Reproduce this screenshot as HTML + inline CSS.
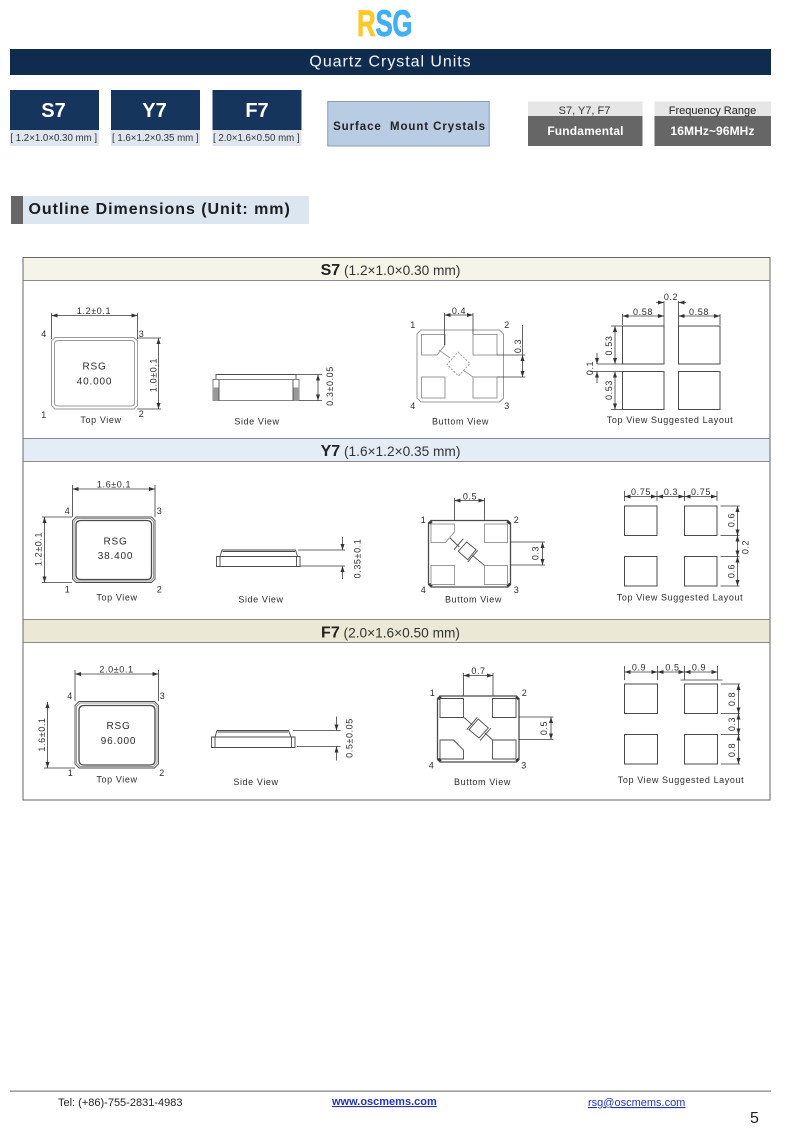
<!DOCTYPE html>
<html lang="en"><head><meta charset="utf-8"><title>Quartz Crystal Units</title>
<style>
html,body{margin:0;padding:0;background:#fff;width:790px;height:1131px;overflow:hidden}
svg{display:block}
text{font-family:"Liberation Sans",Arial,sans-serif;fill:#2c2c2c}
.l{font-size:9px;letter-spacing:.6px;text-anchor:middle}
.m{font-size:10px;letter-spacing:.8px;text-anchor:middle}
.d{fill:none;stroke:#3a3a3a;stroke-width:.8}
.a{fill:none;stroke:#3a3a3a;stroke-width:.8;marker-start:url(#ar);marker-end:url(#ar)}
.a1{fill:none;stroke:#3a3a3a;stroke-width:.8;marker-end:url(#ar)}
.g{fill:none;stroke:#999;stroke-width:1}
.p{fill:none;stroke:#4a4a4a;stroke-width:.9}
.pd{fill:#fff;stroke:#4a4a4a;stroke-width:1}
.h{font-size:13.700px;fill:#333;text-anchor:middle}
</style></head><body>
<svg xmlns="http://www.w3.org/2000/svg" width="790" height="1131" viewBox="0 0 790 1131">
<defs><marker id="ar" viewBox="0 0 6 4" refX="6" refY="2" markerWidth="6" markerHeight="4" markerUnits="userSpaceOnUse" orient="auto-start-reverse"><path d="M0 0L6 2L0 4Z" fill="#333"/></marker></defs>
<rect width="790" height="1131" fill="#fff"/>

<!-- Logo -->
<g transform="translate(357,36) scale(.7,1)" font-weight="700" style="font-size:37px">
<text x="0" y="0" style="fill:#fdc92b;stroke:#fdc92b;stroke-width:.8">R</text><text x="26.500" y="0" style="fill:#3fb0f5;stroke:#3fb0f5;stroke-width:.8">S</text><text x="50.500" y="0" style="fill:#3fb0f5;stroke:#3fb0f5;stroke-width:.8">G</text></g>

<!-- Banner -->
<rect x="10" y="49" width="761" height="26" fill="#0f2c4e"/>
<text x="390.500" y="66.500" text-anchor="middle" style="font-size:16px;letter-spacing:.95px;fill:#f2f5f8">Quartz Crystal Units</text>

<!-- Model tabs -->
<rect x="10" y="90" width="89" height="56" fill="#dfe6ef"/><rect x="10" y="90" width="89" height="40" fill="#15355c"/>
<rect x="111" y="90" width="89" height="56" fill="#dfe6ef"/><rect x="111" y="90" width="89" height="40" fill="#15355c"/>
<rect x="212.500" y="90" width="89" height="56" fill="#dfe6ef"/><rect x="212.500" y="90" width="89" height="40" fill="#15355c"/>
<text x="53.500" y="117" text-anchor="middle" font-weight="700" style="font-size:20px;fill:#fff">S7</text>
<text x="154.500" y="117" text-anchor="middle" font-weight="700" style="font-size:20px;fill:#fff">Y7</text>
<text x="257" y="117" text-anchor="middle" font-weight="700" style="font-size:20px;fill:#fff">F7</text>
<text x="53.700" y="141" text-anchor="middle" style="font-size:9.700px;fill:#333">[ 1.2×1.0×0.30 mm ]</text>
<text x="155.300" y="141" text-anchor="middle" style="font-size:9.700px;fill:#333">[ 1.6×1.2×0.35 mm ]</text>
<text x="256.300" y="141" text-anchor="middle" style="font-size:9.700px;fill:#333">[ 2.0×1.6×0.50 mm ]</text>

<!-- Surface -->
<rect x="327.750" y="101.500" width="161.500" height="44.500" fill="#b8cce4" stroke="#8c9cb0" stroke-width="1"/>
<text x="409.500" y="130" text-anchor="middle" font-weight="700" style="font-size:11.500px;letter-spacing:.92px;fill:#222" xml:space="preserve">Surface  Mount Crystals</text>

<!-- Specs -->
<rect x="528" y="101.500" width="114.500" height="15" fill="#e6e6e6"/><rect x="528" y="116" width="114.500" height="30" fill="#666"/>
<rect x="654.500" y="101.500" width="116.500" height="15" fill="#e6e6e6"/><rect x="654.500" y="116" width="116.500" height="30" fill="#666"/>
<text x="584.500" y="114" text-anchor="middle" style="font-size:11px;fill:#333">S7, Y7, F7</text>
<text x="712.500" y="114" text-anchor="middle" style="font-size:11px;fill:#222">Frequency Range</text>
<text x="585.500" y="135" text-anchor="middle" font-weight="700" style="font-size:12px;letter-spacing:.15px;fill:#fff">Fundamental</text>
<text x="712.500" y="135" text-anchor="middle" font-weight="700" style="font-size:12px;letter-spacing:.1px;fill:#fff">16MHz~96MHz</text>

<!-- Section title -->
<rect x="11" y="196" width="12" height="28" fill="#666"/><rect x="23" y="196" width="286" height="28" fill="#dce6f1"/>
<text x="28.500" y="214" font-weight="700" style="font-size:16px;letter-spacing:.95px;fill:#1c1c1c">Outline Dimensions (Unit: mm)</text>

<!-- Table -->
<rect x="23" y="257.500" width="747" height="23" fill="#f4f5e8"/>
<rect x="23" y="438.500" width="747" height="23" fill="#e4edf5"/>
<rect x="23" y="619.500" width="747" height="23" fill="#ece8d6"/>
<rect x="23" y="257.500" width="747" height="542.500" fill="none" stroke="#666" stroke-width="1"/>
<path d="M23 280.500H770M23 438.500H770M23 461.500H770M23 619.500H770M23 642.500H770" stroke="#8a8a8a" stroke-width="1" fill="none"/>
<text x="390.500" y="275" class="h"><tspan font-weight="700" style="font-size:16px;fill:#222">S7</tspan> (1.2×1.0×0.30 mm)</text>
<text x="390.500" y="456" class="h"><tspan font-weight="700" style="font-size:16px;fill:#222">Y7</tspan> (1.6×1.2×0.35 mm)</text>
<text x="390.500" y="637.500" class="h"><tspan font-weight="700" style="font-size:16px;fill:#222">F7</tspan> (2.0×1.6×0.50 mm)</text>

<!-- S7 top -->
<path class="d" d="M51.500 313V339M137.500 313V339M137 338H161M137 409H161"/>
<path class="a" d="M51.500 315.500H137.500"/><path class="a" d="M158.500 338V409"/>
<path class="g" d="M55 337.500H134L137.500 341V405.500L134 409H55L51.500 405.500V341Z"/>
<path class="g" d="M58 340.500H131Q134.500 340.500 134.500 344V402.500Q134.500 406 131 406H58Q54.500 406 54.500 402.500V344Q54.500 340.500 58 340.500Z"/>
<text class="l" x="94" y="314">1.2±0.1</text>
<text class="l" transform="translate(156.500,375) rotate(-90)">1.0±0.1</text>
<text class="l" x="44" y="337">4</text><text class="l" x="141.500" y="337">3</text><text class="l" x="44" y="418">1</text><text class="l" x="141.500" y="417">2</text>
<text class="l" x="101" y="423">Top View</text>
<text class="m" x="94.500" y="369.500">RSG</text><text class="m" x="94.500" y="384.500">40.000</text>
<!-- S7 side -->
<rect x="213" y="379.500" width="86" height="21" fill="#fff" stroke="#666" stroke-width=".8"/>
<path class="p" d="M216 379V374.500H296V379"/>
<rect x="213" y="387.500" width="6" height="13" fill="#999"/><rect x="293" y="387.500" width="6" height="13" fill="#999"/>
<path class="d" d="M219 379.500V400.500M293 379.500V400.500M296 374.500H322M299 400.500H322"/>
<path class="a" d="M318 374.500V400.500"/>
<text class="l" transform="translate(333,386) rotate(-90)">0.3±0.05</text>
<text class="l" x="257" y="424.500">Side View</text>
<!-- S7 bottom -->
<path class="g" d="M421 330H499.500L503.500 334V398L499.500 402H421L417 398V334Z"/>
<path class="g" d="M421.500 334.500H445V345L437 355H421.500ZM473 334.500H497V355H473ZM421.500 377H445V398H421.500ZM473 377H497V398H473Z"/>
<path class="g" d="M439 350L450 358M463 370L473 377" />
<path d="M458 352L470 363.500L458.500 376L447 364.500Z" fill="none" stroke="#999" stroke-width=".9" stroke-dasharray="2 1.500"/>
<path class="d" d="M444.500 313V345M473 313V334M497 355H525M497 377H525M522.500 325V355"/>
<path class="a" d="M522.500 355V377"/>
<path class="a" d="M444.500 315H473"/>
<text class="l" x="459" y="314">0.4</text>
<text class="l" transform="translate(521,346) rotate(-90)">0.3</text>
<text class="l" x="413" y="328">1</text><text class="l" x="507" y="328">2</text><text class="l" x="413" y="409">4</text><text class="l" x="507" y="409">3</text>
<text class="l" x="460.500" y="424.500">Buttom View</text>
<!-- S7 layout -->
<path class="pd" d="M622.500 326H664V364H622.500ZM678.500 326H720V364H678.500ZM622.500 371.500H664V409.500H622.500ZM678.500 371.500H720V409.500H678.500Z"/>
<path class="d" d="M622.500 314V325M720 314V325M664 301V326M678.500 301V326M611 326H622M611 409.500H622M597 364H622M590 371.500H622"/>
<path class="a" d="M622.500 316H664"/><path class="a" d="M678.500 316H720"/>
<path class="a" d="M615 326V364"/><path class="a" d="M615 371.500V409.500"/>
<path class="a1" d="M656 302.500H664"/><path class="a1" d="M686 302.500H678.500"/>
<path class="a1" d="M597 353V364"/><path class="a1" d="M597 383V371.500"/>
<text class="l" x="643" y="315">0.58</text><text class="l" x="699" y="315">0.58</text><text class="l" x="671" y="300">0.2</text>
<text class="l" transform="translate(612,345.500) rotate(-90)">0.53</text>
<text class="l" transform="translate(612,390) rotate(-90)">0.53</text>
<text class="l" transform="translate(593,368) rotate(-90)">0.1</text>
<text class="l" x="670" y="423">Top View Suggested Layout</text>

<!-- Y7 top -->
<path class="d" d="M72.500 485V517M155 485V517M42 517H72M42 582.500H72"/>
<path class="a" d="M72.500 489H155"/><path class="a" d="M44.500 517V582.500"/>
<path class="p" d="M76 517H151.500L155 520.500V579L151.500 582.500H76L72.500 579V520.500Z"/>
<path class="g" d="M77 518.500H150.500L153.500 521.500V578L150.500 581H77L74 578V521.500Z"/>
<path d="M81 520.500H147Q151.500 520.500 151.500 525V575Q151.500 579.500 147 579.500H81Q76 579.500 76 575V525Q76 520.500 81 520.500Z" fill="none" stroke="#4a4a4a" stroke-width="1.300"/>
<text class="l" x="114" y="487.500">1.6±0.1</text>
<text class="l" transform="translate(41.500,549) rotate(-90)">1.2±0.1</text>
<text class="l" x="67.500" y="514">4</text><text class="l" x="159.500" y="514">3</text><text class="l" x="67.500" y="592.500">1</text><text class="l" x="159.500" y="592.500">2</text>
<text class="l" x="117" y="600.500">Top View</text>
<text class="m" x="115.500" y="544.500">RSG</text><text class="m" x="115.500" y="559">38.400</text>
<!-- Y7 side -->
<path class="p" d="M216.500 556.500H300V566.500H216.500ZM220 556.500V566.500M296.500 556.500V566.500M220 556.500L222 550H295.500L297.500 556.500M222.500 551.500H295"/>
<path class="d" d="M298 550H345M300 566H345"/>
<path class="a1" d="M342.500 537V550"/><path class="a1" d="M342.500 579V566"/>
<text class="l" transform="translate(360.500,558.500) rotate(-90)">0.35±0.1</text>
<text class="l" x="261" y="602.500">Side View</text>
<!-- Y7 bottom -->
<path d="M431 520.500H508L510.500 523V584.500L508 587H431L428.500 584.500V523Z" fill="none" stroke="#4a4a4a" stroke-width="1.300"/>
<path d="M429.500 524L432 521.500M507 521.500L510 524M429.500 583.500L432 586M507 586L510 583.500" fill="none" stroke="#333" stroke-width="1.800"/>
<path class="g" d="M431 524H454.500V532L445.500 542.500H431ZM484.500 524H507.500V542.500H484.500ZM431 565.500H454.500V584.500H431ZM484.500 565.500H507.500V584.500H484.500Z"/>
<path class="d" d="M454.500 498V520.500M484.500 498V520.500M510.500 542H545M510.500 565H545"/>
<path class="a" d="M454.500 500.500H484.500"/><path class="a" d="M542.500 542V565"/>
<path class="p" d="M458.300 551.300L466.700 542L476 549.700L467.700 559.700ZM454 549.700L463.300 538.700M467.700 562L477.700 550.300M450 538L459.300 547M472.300 555.300L484.300 565.300"/>
<text class="l" x="470" y="499.500">0.5</text>
<text class="l" transform="translate(538.500,553) rotate(-90)">0.3</text>
<text class="l" x="423.500" y="523">1</text><text class="l" x="516.500" y="523">2</text><text class="l" x="423.500" y="593">4</text><text class="l" x="516.500" y="593">3</text>
<text class="l" x="473.500" y="602.500">Buttom View</text>
<!-- Y7 layout -->
<path class="pd" d="M624.500 506H657V535.500H624.500ZM684.500 506H717V535.500H684.500ZM624.500 556.500H657V586H624.500ZM684.500 556.500H717V586H684.500Z"/>
<path class="d" d="M624.500 491V501M657 491V501M684.500 491V501M717 491V501M720.500 506H739.500M720.500 535.500H739.500M720.500 556.500H739.500M720.500 586H739.500"/>
<path class="a" d="M624.500 496.500H657"/><path class="a" d="M657 496.500H684.500"/><path class="a" d="M684.500 496.500H717"/>
<path class="a" d="M737.500 506V535.500"/><path class="a" d="M737.500 535.500V556.500"/><path class="a" d="M737.500 556.500V586"/>
<text class="l" x="641" y="495">0.75</text><text class="l" x="671" y="495">0.3</text><text class="l" x="701" y="495">0.75</text>
<text class="l" transform="translate(734.500,520) rotate(-90)">0.6</text>
<text class="l" transform="translate(734.500,571) rotate(-90)">0.6</text>
<text class="l" transform="translate(748.500,547) rotate(-90)">0.2</text>
<text class="l" x="680" y="600.500">Top View Suggested Layout</text>

<!-- F7 top -->
<path class="d" d="M75 670V701M158.500 670V701M44 768H75"/>
<path class="a" d="M75 674H158.500"/><path class="a" d="M47.500 702V768"/>
<path class="p" d="M79 701.500H154.500L158.500 705.500V764L154.500 768H79L75 764V705.500Z"/>
<path class="g" d="M80 703H153.500L157 706.500V763L153.500 766.500H80L76.500 763V706.500Z"/>
<path d="M84 705.500H150Q155 705.500 155 710.500V760Q155 765 150 765H84Q79 765 79 760V710.500Q79 705.500 84 705.500Z" fill="none" stroke="#4a4a4a" stroke-width="1.300"/>
<text class="l" x="116.500" y="672.500">2.0±0.1</text>
<text class="l" transform="translate(45,734.500) rotate(-90)">1.6±0.1</text>
<text class="l" x="70" y="699">4</text><text class="l" x="162.500" y="699">3</text><text class="l" x="70.500" y="776">1</text><text class="l" x="162" y="776">2</text>
<text class="l" x="117" y="782.500">Top View</text>
<text class="m" x="118.500" y="729">RSG</text><text class="m" x="118.500" y="744">96.000</text>
<!-- F7 side -->
<path class="p" d="M211.500 737H295V747.500H211.500ZM215 737V747.500M291.500 737V747.500M215 737L217 730.500H288.500L291 737M217.500 732H288"/>
<path class="d" d="M293 730.500H340.500M297 746.500H340.500"/>
<path class="a1" d="M336.500 716.500V730.500"/><path class="a1" d="M336.500 760.500V746.500"/>
<text class="l" transform="translate(352.500,738) rotate(-90)">0.5±0.05</text>
<text class="l" x="256" y="785">Side View</text>
<!-- F7 bottom -->
<path d="M440 696H516.500L519 698.500V759.500L516.500 762H440L437.500 759.500V698.500Z" fill="none" stroke="#4a4a4a" stroke-width="1.300"/>
<path d="M438.500 699.500L441 697M516 697L518.500 699.500M438.500 758.500L441 761M516 761L518.500 758.500" fill="none" stroke="#333" stroke-width="1.800"/>
<path class="p" d="M440 698.500H463.500V717.500H440ZM492.500 698.500H516V717.500H492.500ZM440 740H453.500L463.500 750V759H440ZM492.500 740H516V759H492.500Z"/>
<path class="d" d="M463.500 673V696M493 673V696M519 717H553.500M519 739.500H553.500"/>
<path class="a" d="M463.500 675.500H493"/><path class="a" d="M551 717V739.500"/>
<path class="p" d="M469 729.700L478.300 719L488.300 728L479 738ZM466.700 729.700L477.300 717.300M480 740.700L491 728M463.700 717.300L472.300 724.700M485 733L492.300 739.700"/>
<text class="l" x="478.500" y="674">0.7</text>
<text class="l" transform="translate(547,728) rotate(-90)">0.5</text>
<text class="l" x="432.500" y="696">1</text><text class="l" x="524.500" y="696">2</text><text class="l" x="431.500" y="768.500">4</text><text class="l" x="524" y="768.500">3</text>
<text class="l" x="482.500" y="785">Buttom View</text>
<!-- F7 layout -->
<path class="pd" d="M624.500 684H657.500V713.500H624.500ZM684.500 684H717.500V713.500H684.500ZM624.500 734.500H657.500V764H624.500ZM684.500 734.500H717.500V764H684.500Z"/>
<path class="d" d="M624.500 666V680M657.500 666V680M684.500 666V680M717.500 666V680M680.500 680H722.500M721 684H740M721 713.500H740M721 734.500H740M721 764H740"/>
<path class="a" d="M624.500 672H657.500"/><path class="a" d="M657.500 672H684.500"/><path class="a" d="M684.500 672H717.500"/>
<path class="a" d="M738.500 684V713.500"/><path class="a" d="M738.500 713.500V734.500"/><path class="a" d="M738.500 734.500V764"/>
<text class="l" x="639" y="670.500">0.9</text><text class="l" x="672.500" y="670.500">0.5</text><text class="l" x="699" y="670.500">0.9</text>
<text class="l" transform="translate(735,699) rotate(-90)">0.8</text>
<text class="l" transform="translate(735,724) rotate(-90)">0.3</text>
<text class="l" transform="translate(735,750) rotate(-90)">0.8</text>
<text class="l" x="681" y="783">Top View Suggested Layout</text>

<!-- Footer -->
<rect x="10" y="1090.500" width="761" height="1.300" fill="#888"/>
<text x="58" y="1106" style="font-size:11px;fill:#222">Tel: (+86)-755-2831-4983</text>
<text x="332" y="1105" font-weight="700" style="font-size:11px;fill:#2233bb;text-decoration:underline">www.oscmems.com</text>
<text x="588" y="1106" style="font-size:11px;fill:#2233bb;text-decoration:underline">rsg@oscmems.com</text>
<text x="750" y="1123" style="font-size:16px;fill:#222">5</text>
</svg>
</body></html>
